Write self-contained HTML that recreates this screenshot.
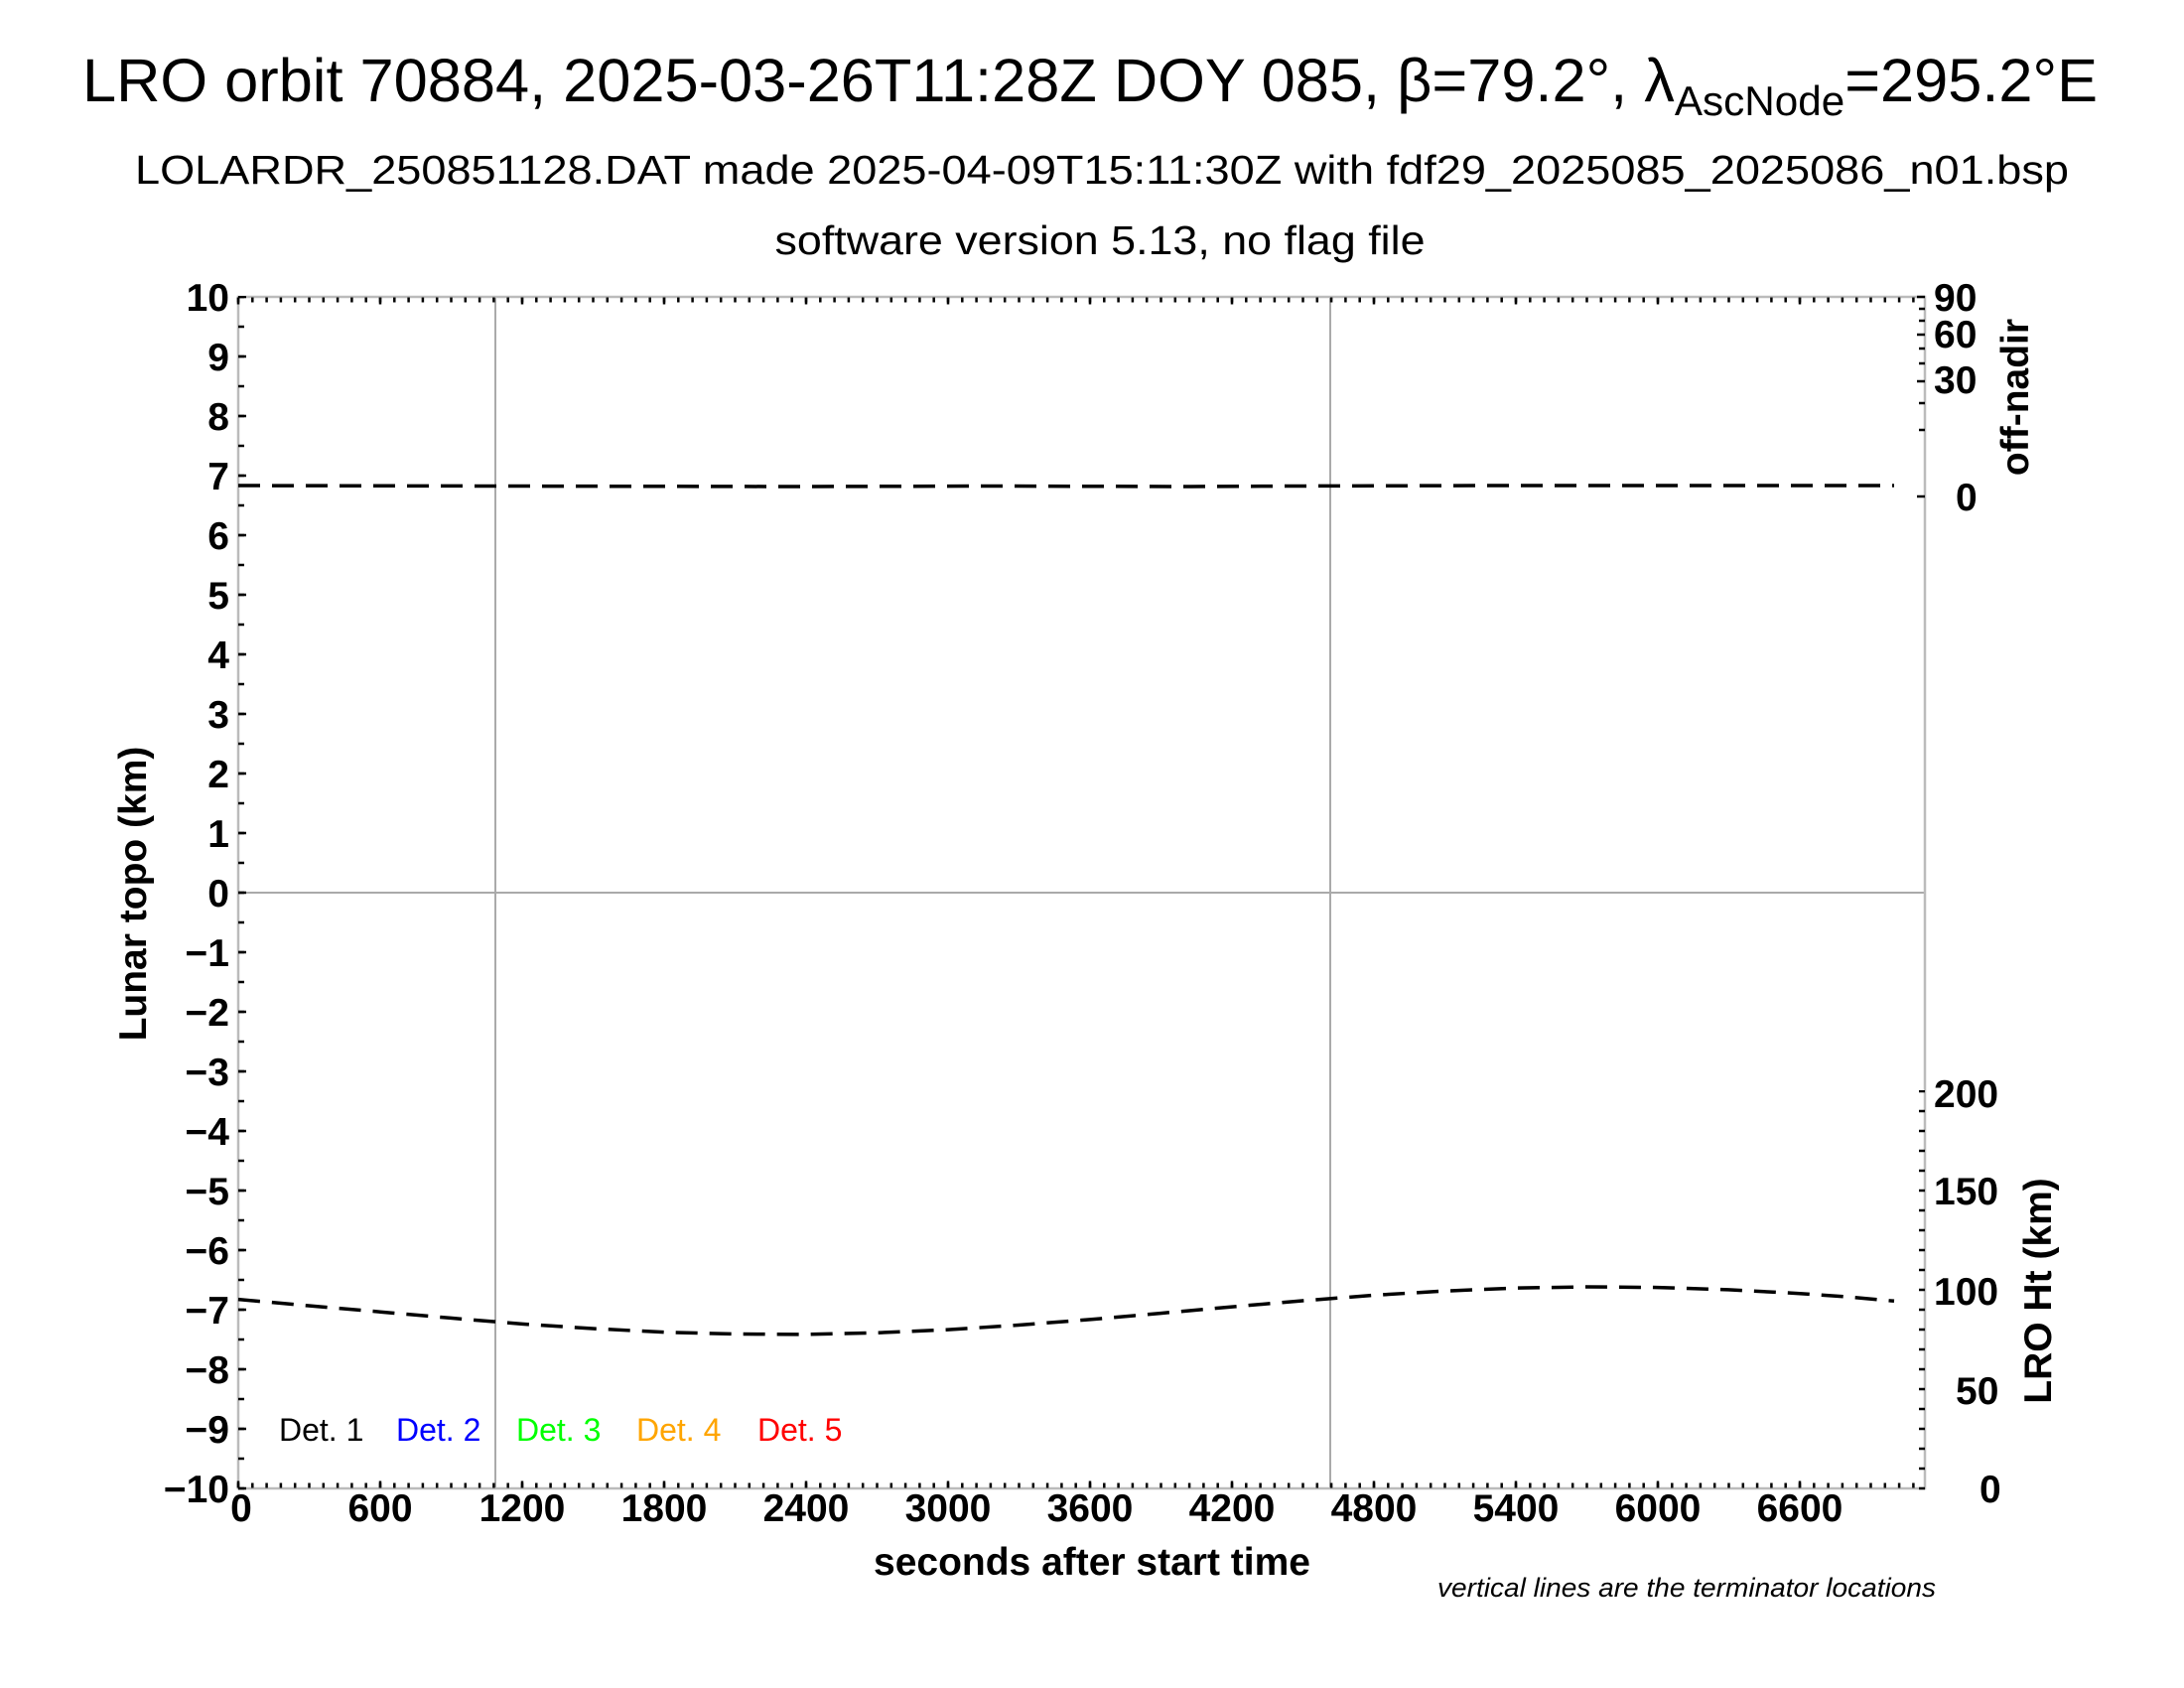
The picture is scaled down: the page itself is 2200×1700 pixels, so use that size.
<!DOCTYPE html>
<html><head><meta charset="utf-8"><style>
html,body{margin:0;padding:0;background:#fff;}
svg{display:block;}
text{font-family:"Liberation Sans",Arial,sans-serif;}
.b{font-weight:bold;font-size:39px;}
.t{font-weight:bold;font-size:39px;}
</style></head><body>
<svg width="2200" height="1700" viewBox="0 0 2200 1700" xmlns="http://www.w3.org/2000/svg">
<rect width="2200" height="1700" fill="#fff"/>
<!-- titles -->
<text x="1098" y="102" font-size="61" text-anchor="middle" textLength="2030" lengthAdjust="spacingAndGlyphs">LRO orbit 70884, 2025-03-26T11:28Z DOY 085, β=79.2°, λ<tspan font-size="42" dy="14">AscNode</tspan><tspan dy="-14">=295.2°E</tspan></text>
<text x="1110" y="185" font-size="41" text-anchor="middle" textLength="1948" lengthAdjust="spacingAndGlyphs">LOLARDR_250851128.DAT made 2025-04-09T15:11:30Z with fdf29_2025085_2025086_n01.bsp</text>
<text x="1108" y="256" font-size="41" text-anchor="middle" textLength="655" lengthAdjust="spacingAndGlyphs">software version 5.13, no flag file</text>

<!-- grid lines -->
<line x1="240" y1="899" x2="1939" y2="899" stroke="#aaa" stroke-width="2"/>
<line x1="499" y1="299" x2="499" y2="1499" stroke="#aaa" stroke-width="2"/>
<line x1="1340" y1="299" x2="1340" y2="1499" stroke="#aaa" stroke-width="2"/>

<!-- frame -->
<rect x="240" y="299" width="1699" height="1200" fill="none" stroke="#bbb" stroke-width="2.5"/>

<!-- left ticks -->
<line x1="243" y1="1500.25" x2="243" y2="298" stroke="#000" stroke-width="6" stroke-dasharray="2.5 27.5"/>
<line x1="244" y1="1500.25" x2="244" y2="298" stroke="#000" stroke-width="8" stroke-dasharray="2.5 57.5"/>
<!-- top ticks -->
<line x1="238.75" y1="302" x2="1940" y2="302" stroke="#000" stroke-width="5" stroke-dasharray="2.5 11.8"/>
<line x1="238.75" y1="303" x2="1940" y2="303" stroke="#000" stroke-width="7" stroke-dasharray="2.5 140.5"/>
<!-- bottom ticks -->
<line x1="238.75" y1="1496" x2="1940" y2="1496" stroke="#000" stroke-width="5" stroke-dasharray="2.5 11.8"/>
<line x1="238.75" y1="1495" x2="1940" y2="1495" stroke="#000" stroke-width="7" stroke-dasharray="2.5 140.5"/>
<!-- right bottom ticks (LRO Ht) -->
<line x1="1936" y1="1500.25" x2="1936" y2="1098" stroke="#000" stroke-width="6" stroke-dasharray="2.5 17.5"/>
<!-- right top ticks (off-nadir) -->
<g stroke="#000" stroke-width="2.5">
<line x1="1931" y1="500" x2="1939" y2="500"/>
<line x1="1933" y1="433" x2="1939" y2="433"/>
<line x1="1933" y1="406" x2="1939" y2="406"/>
<line x1="1931" y1="384" x2="1939" y2="384"/>
<line x1="1933" y1="366" x2="1939" y2="366"/>
<line x1="1933" y1="351" x2="1939" y2="351"/>
<line x1="1931" y1="337" x2="1939" y2="337"/>
<line x1="1933" y1="323" x2="1939" y2="323"/>
<line x1="1933" y1="311" x2="1939" y2="311"/>
<line x1="1931" y1="299" x2="1939" y2="299"/>
</g>

<!-- series -->
<polyline fill="none" stroke="#000" stroke-width="3.5" stroke-dasharray="22 12"
 points="240,489 500,489.5 800,490 1000,489.5 1200,490 1300,489.5 1500,489 1700,489 1908,489"/>
<polyline fill="none" stroke="#000" stroke-width="3.5" stroke-dasharray="22 12"
 points="240,1308.6 311,1315.0 383,1321.2 454,1327.4 526,1333.4 597,1338.0 669,1341.7 740,1343.5 812,1343.9 883,1342.3 955,1339.1 1026,1334.5 1098,1328.9 1169,1322.6 1241,1316.1 1312,1310.0 1384,1304.4 1455,1300.2 1527,1297.2 1598,1296.0 1670,1296.6 1741,1298.9 1813,1302.7 1860,1306.0 1908,1310.3"/>

<!-- left tick labels -->
<g text-anchor="end">
<text x="231" y="313" class="b">10</text>
<text x="231" y="373" class="b">9</text>
<text x="231" y="433" class="b">8</text>
<text x="231" y="493" class="b">7</text>
<text x="231" y="553" class="b">6</text>
<text x="231" y="613" class="b">5</text>
<text x="231" y="673" class="b">4</text>
<text x="231" y="733" class="b">3</text>
<text x="231" y="793" class="b">2</text>
<text x="231" y="853" class="b">1</text>
<text x="231" y="913" class="b">0</text>
<text x="231" y="973" class="b">−1</text>
<text x="231" y="1033" class="b">−2</text>
<text x="231" y="1093" class="b">−3</text>
<text x="231" y="1153" class="b">−4</text>
<text x="231" y="1213" class="b">−5</text>
<text x="231" y="1273" class="b">−6</text>
<text x="231" y="1333" class="b">−7</text>
<text x="231" y="1393" class="b">−8</text>
<text x="231" y="1453" class="b">−9</text>
<text x="231" y="1513" class="b">−10</text>
</g>
<!-- x tick labels -->
<g text-anchor="middle">
<text x="243" y="1532" class="b">0</text>
<text x="383" y="1532" class="b">600</text>
<text x="526" y="1532" class="b">1200</text>
<text x="669" y="1532" class="b">1800</text>
<text x="812" y="1532" class="b">2400</text>
<text x="955" y="1532" class="b">3000</text>
<text x="1098" y="1532" class="b">3600</text>
<text x="1241" y="1532" class="b">4200</text>
<text x="1384" y="1532" class="b">4800</text>
<text x="1527" y="1532" class="b">5400</text>
<text x="1670" y="1532" class="b">6000</text>
<text x="1813" y="1532" class="b">6600</text>
</g>
<!-- right labels -->
<g>
<text x="1948" y="313" class="b">90</text>
<text x="1948" y="350" class="b">60</text>
<text x="1948" y="396" class="b">30</text>
<text x="1970" y="514" class="b">0</text>
<text x="1948" y="1115" class="b">200</text>
<text x="1948" y="1213" class="b">150</text>
<text x="1948" y="1314" class="b">100</text>
<text x="1970" y="1414" class="b">50</text>
<text x="1994" y="1513" class="b">0</text>
</g>
<!-- axis titles -->
<text x="1100" y="1586" class="t" text-anchor="middle">seconds after start time</text>
<text transform="translate(147,900) rotate(-90)" class="t" text-anchor="middle">Lunar topo (km)</text>
<text transform="translate(2043,400) rotate(-90)" class="t" text-anchor="middle">off-nadir</text>
<text transform="translate(2066,1300) rotate(-90)" class="t" text-anchor="middle">LRO Ht (km)</text>
<text x="1950" y="1608" font-size="27" font-style="italic" text-anchor="end" textLength="502" lengthAdjust="spacingAndGlyphs">vertical lines are the terminator locations</text>
<!-- legend -->
<g font-size="32">
<text x="281" y="1451" fill="#000">Det. 1</text>
<text x="399" y="1451" fill="#0000ff">Det. 2</text>
<text x="520" y="1451" fill="#00ff00">Det. 3</text>
<text x="641" y="1451" fill="#ffa500">Det. 4</text>
<text x="763" y="1451" fill="#ff0000">Det. 5</text>
</g>
</svg>
</body></html>
